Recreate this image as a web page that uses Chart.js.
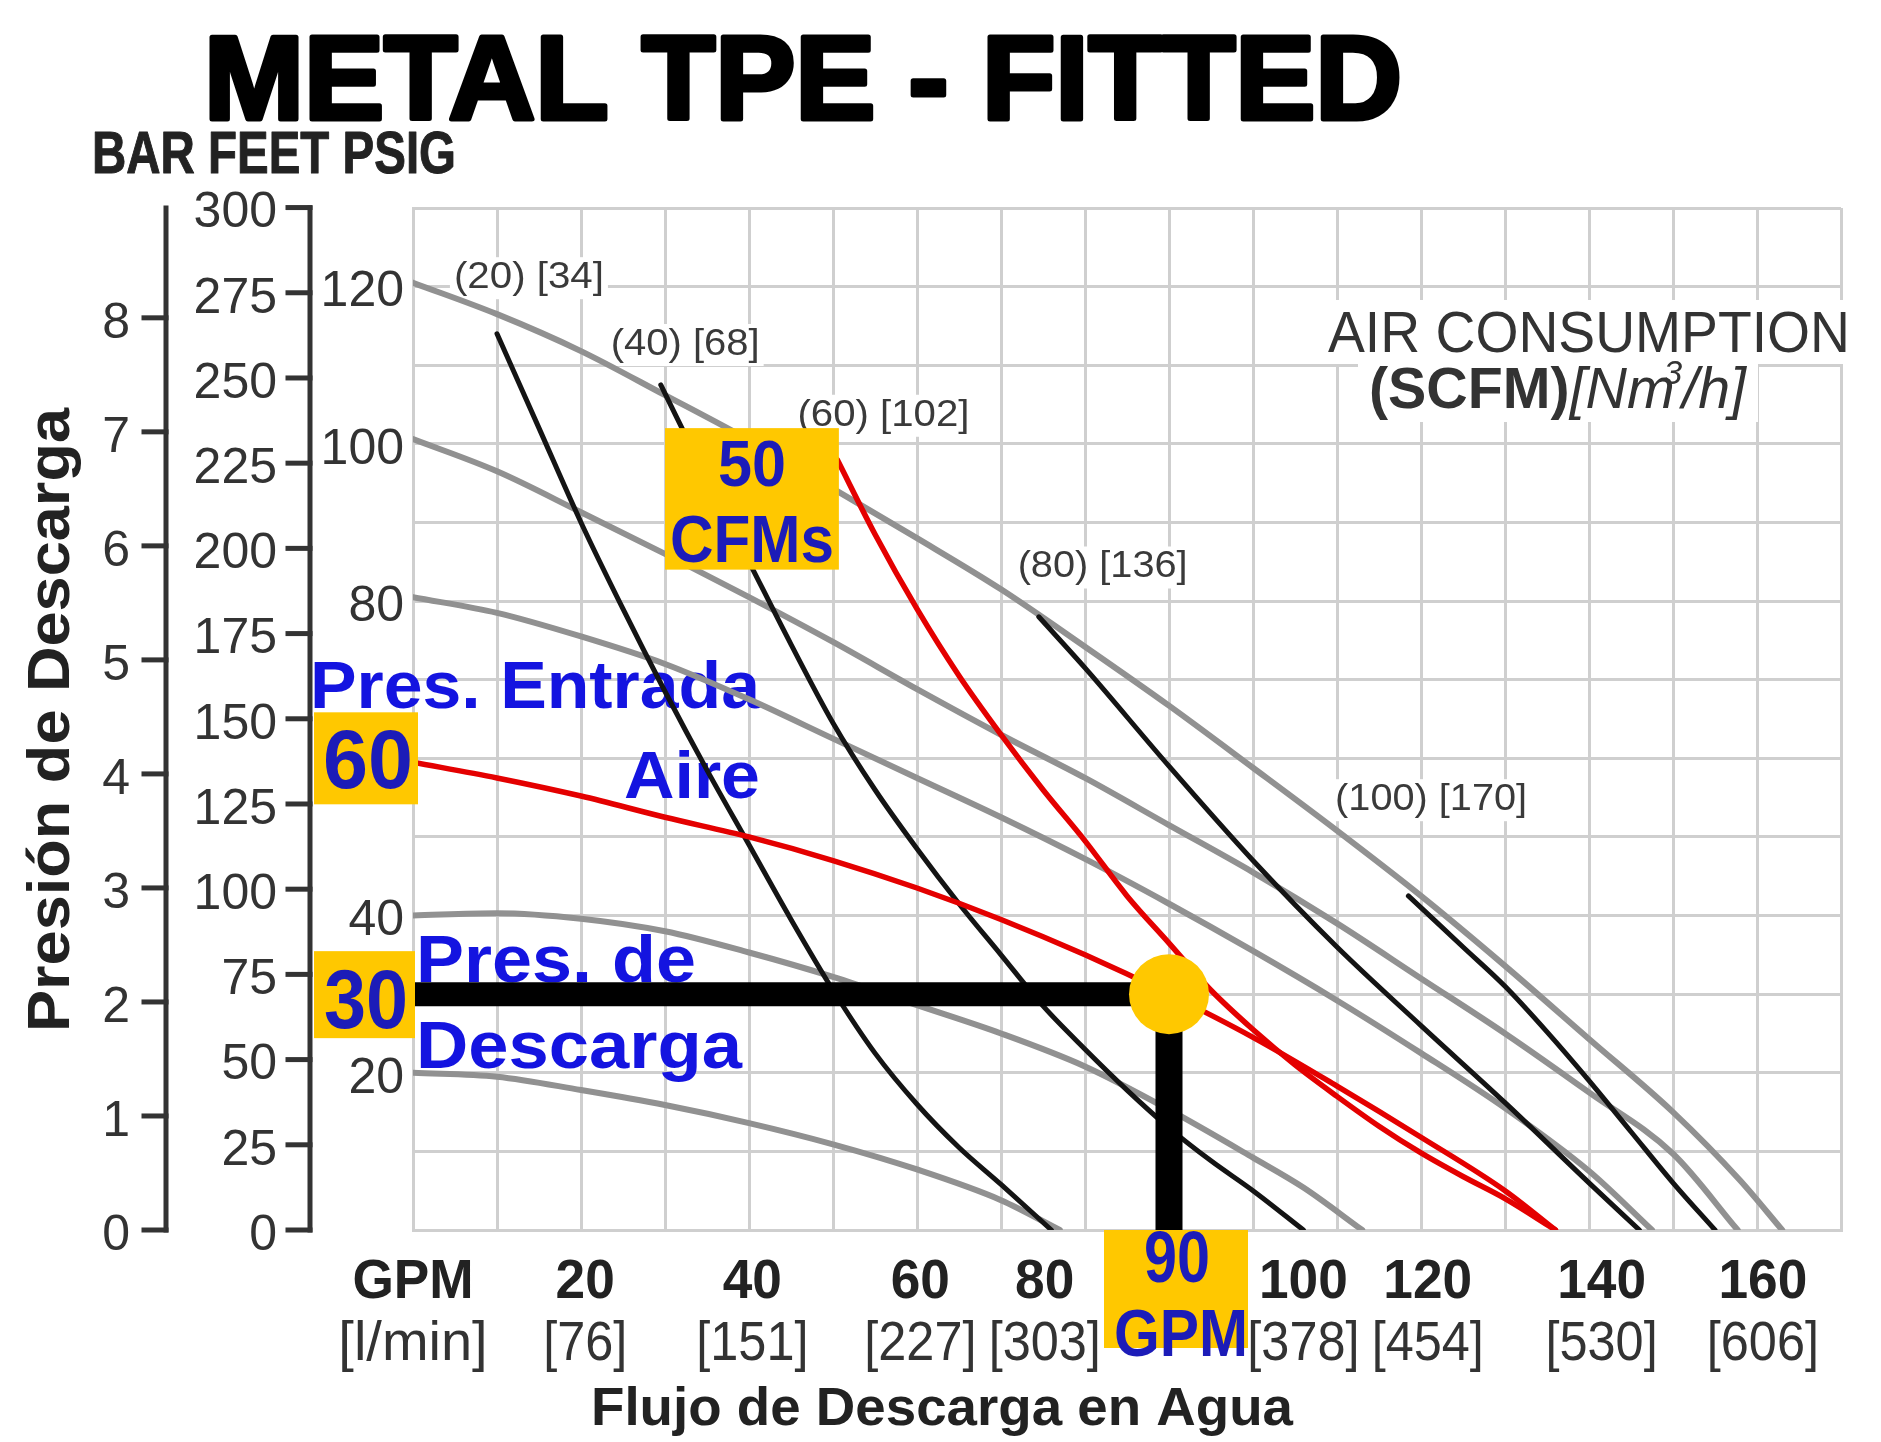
<!DOCTYPE html>
<html>
<head>
<meta charset="utf-8">
<script src="https://cdn.jsdelivr.net/npm/chart.js@4.4.1/dist/chart.umd.min.js"></script>
<style>
html,body{margin:0;padding:0;background:#fff;}
canvas{display:block;}
</style>
</head>
<body>
<canvas id="c" width="1881" height="1442"></canvas>
<script>
// ================= DATA =================
// X axis (water discharge flow)
const gpmTickLabels = ['GPM', '20', '40', '60', '80', '100', '120', '140', '160'];
const lpmTickLabels = ['[l/min]', '[76]', '[151]', '[227]', '[303]', '[378]', '[454]', '[530]', '[606]'];
const gpmLabelPos   = [0, 20.5, 40.4, 60.4, 75.2, 106, 120.8, 141.5, 160.7];
// Y axes (discharge pressure)
const psiTickLabels = [20, 40, 80, 100, 120];
const feetTicks = [0, 25, 50, 75, 100, 125, 150, 175, 200, 225, 250, 275, 300];
const barTicks  = [0, 1, 2, 3, 4, 5, 6, 7, 8];

// Air inlet pressure curves (psi) : flow GPM -> discharge psi
const p120Gpm = [0, 10, 20, 30, 40, 50, 60, 70, 80, 90, 100, 110, 120, 130, 140, 150, 158, 163];
const p120Psi = [120.5, 116.5, 111.8, 106.2, 100.5, 94.3, 88, 81.5, 74.2, 66.7, 58.8, 50.8, 42.5, 33.6, 24.3, 15, 6.3, 0];
const p100Gpm = [0, 10, 20, 30, 40, 50, 60, 70, 80, 90, 100, 110, 120, 130, 140, 150, 157.7];
const p100Psi = [100.6, 96.5, 91.3, 86, 80.5, 74.8, 68.8, 63, 57.5, 51.5, 45.5, 39, 32, 25, 17.5, 9.7, 0];
const p80Gpm  = [0, 10, 20, 30, 40, 50, 60, 70, 80, 90, 100, 110, 120, 130, 140, 147.5];
const p80Psi  = [80.5, 78.5, 75.5, 72, 67.5, 62.5, 57.5, 52.5, 47.2, 41.5, 35.5, 29.2, 22.5, 15.5, 7.5, 0];
const p60Gpm  = [0, 10, 20, 30, 40, 50, 60, 70, 80, 90, 100, 110, 120, 130, 136];
const p60Psi  = [59.5, 57.5, 55.2, 52.5, 50, 47, 43.5, 39.5, 35, 30, 24.5, 18.3, 11.8, 5, 0];
const p40Gpm  = [0, 10, 20, 30, 40, 50, 60, 70, 80, 90, 100, 106, 113];
const p40Psi  = [40, 40.3, 39.6, 38, 35.3, 32.2, 28.6, 25, 20.8, 15.3, 9.2, 5.4, 0];
const p20Gpm  = [0, 10, 20, 30, 40, 50, 60, 70, 77];
const p20Psi  = [20, 19.5, 17.8, 15.9, 13.6, 10.9, 7.7, 3.8, 0];

// Air consumption curves (SCFM) [Nm3/h]
const scfmValues = [20, 40, 60, 80, 100];
const nm3hValues = [34, 68, 102, 136, 170];
const c20Gpm  = [10, 15, 20, 25, 30, 35, 40, 45, 50, 55, 60, 65, 70, 76];
const c20Psi  = [114, 102, 90, 79, 68.5, 58.5, 49, 39.5, 30.5, 22.5, 16, 10.5, 5.8, 0];
const c40Gpm  = [29.5, 35, 40, 45, 50, 55, 60, 65, 70, 75, 80, 85, 90, 95, 100, 106];
const c40Psi  = [107.5, 95.5, 85, 74.5, 64.5, 56, 48.5, 41.5, 35, 28.5, 23, 17.8, 13, 8.8, 5, 0];
const c60Gpm  = [50.5, 55, 60, 65, 70, 75, 80, 85, 90, 95, 100, 105, 110, 115, 120, 125, 130, 136];
const c60Psi  = [98, 88.5, 79, 70.5, 63, 56, 49.5, 42.5, 36.5, 30.5, 25.5, 21, 17, 13.2, 9.8, 6.8, 4, 0];
const c80Gpm  = [74.5, 80, 90, 100, 110, 120, 130, 140, 146];
const c80Psi  = [78, 71.5, 59, 47, 36, 26, 16.2, 6, 0];
const c100Gpm = [118.5, 125, 130, 135, 140, 145, 150, 155];
const c100Psi = [42.5, 36, 31, 25.2, 19, 12.5, 6, 0];

// Curve label anchors (GPM centre, psi baseline)
const labelGpm = [13.8, 32.4, 56, 82.1, 121.2];
const labelPsi = [119.8, 111.3, 102.3, 83, 53.4];

// Highlighted operating point
const flowGpm = 90;
const dischargePsi = 30;
const inletPsi = 60;
const airCfm = 50;

// ================= HELPERS =================
const FONT = "'Liberation Sans', Arial, Helvetica, sans-serif";
const BLUE = '#1414e0';
const BOXBLUE = '#1c1cb8';
const YEL = '#FFC800';

function series(xs, ys) { return xs.map((x, i) => ({x: x, y: ys[i]})); }

function drawText(ctx, str, x, y, o) {
  ctx.save();
  ctx.font = o.font;
  ctx.fillStyle = o.color || '#000';
  ctx.textBaseline = o.baseline || 'alphabetic';
  ctx.textAlign = 'left';
  const w = ctx.measureText(str).width;
  let sx = o.sx || 1;
  if (o.width) sx = o.width / w;
  let x0 = x;
  const align = o.align || 'left';
  if (align === 'center') x0 = x - w * sx / 2;
  else if (align === 'right') x0 = x - w * sx;
  ctx.translate(x0, y);
  ctx.scale(sx, 1);
  if (o.stroke) {
    ctx.lineWidth = o.stroke; ctx.strokeStyle = o.color || '#000'; ctx.lineJoin = 'round';
    ctx.strokeText(str, 0, 0);
  }
  ctx.fillText(str, 0, 0);
  ctx.restore();
  return {x0: x0, w: w * sx};
}

function lineDs(xs, ys, color, width) {
  return {
    data: series(xs, ys), showLine: true, borderColor: color, borderWidth: width,
    pointRadius: 0, pointHoverRadius: 0, fill: false,
    cubicInterpolationMode: 'monotone', borderCapStyle: 'round', borderJoinStyle: 'round'
  };
}

const GRAY = 'rgb(145,145,145)';
const BLK = '#141414';
const RED = '#e40000';

const datasets = [
  {data: [{x: flowGpm, y: dischargePsi}], showLine: false, pointRadius: 40, pointHoverRadius: 40,
   pointBackgroundColor: YEL, pointBorderWidth: 0, pointStyle: 'circle'},
  {data: series([0, flowGpm], [dischargePsi, dischargePsi]), showLine: true, borderColor: '#000',
   borderWidth: 24, pointRadius: 0, borderCapStyle: 'butt', tension: 0},
  {data: series([flowGpm, flowGpm], [dischargePsi, 0]), showLine: true, borderColor: '#000',
   borderWidth: 27, pointRadius: 0, borderCapStyle: 'butt', tension: 0},
  lineDs(p60Gpm, p60Psi, RED, 5.5),
  lineDs(c60Gpm, c60Psi, RED, 5.5),
  lineDs(c20Gpm, c20Psi, BLK, 5),
  lineDs(c40Gpm, c40Psi, BLK, 5),
  lineDs(c80Gpm, c80Psi, BLK, 5),
  lineDs(c100Gpm, c100Psi, BLK, 5),
  lineDs(p120Gpm, p120Psi, GRAY, 6),
  lineDs(p100Gpm, p100Psi, GRAY, 6),
  lineDs(p80Gpm, p80Psi, GRAY, 6),
  lineDs(p40Gpm, p40Psi, GRAY, 6),
  lineDs(p20Gpm, p20Psi, GRAY, 6)
];

// ================= PLUGIN =================
const decorations = {
  id: 'decorations',
  beforeDraw(chart) {
    const ctx = chart.ctx;
    ctx.save(); ctx.fillStyle = '#fff'; ctx.fillRect(0, 0, chart.width, chart.height); ctx.restore();
  },
  beforeDatasetsDraw(chart) {
    const ctx = chart.ctx, x = chart.scales.x, y = chart.scales.y;
    // curve labels
    const widths = [150, 149, 172, 170, 192];
    scfmValues.forEach((s, i) => {
      const t = '(' + s + ') [' + nm3hValues[i] + ']';
      const cx = x.getPixelForValue(labelGpm[i]);
      const by = y.getPixelForValue(labelPsi[i]);
      ctx.fillStyle = '#fff';
      ctx.fillRect(cx - widths[i] / 2 - 4, by - 31, widths[i] + 8, 42);
      drawText(ctx, t, cx, by, {font: '36px ' + FONT, color: '#3a3a3a', width: widths[i], align: 'center'});
    });
    // AIR CONSUMPTION block
    ctx.fillStyle = '#fff';
    ctx.fillRect(1318, 300, 544, 64);
    ctx.fillRect(1358, 364, 400, 58);
    drawText(ctx, 'AIR CONSUMPTION', 1328, 352, {font: '58px ' + FONT, color: '#333', width: 522});
    // (SCFM)[Nm3/h]
    ctx.save();
    const f1 = 'bold 58px ' + FONT, f2 = 'italic 58px ' + FONT, f3 = 'italic 34px ' + FONT;
    ctx.font = f1; const w1 = ctx.measureText('(SCFM)').width;
    ctx.font = f2; const w2 = ctx.measureText('[Nm').width;
    ctx.font = f3; const w3 = ctx.measureText('3').width;
    ctx.font = f2; const w4 = ctx.measureText('/h]').width;
    const tot = w1 + w2 + w3 * 0.4 + w4;
    const sx = 377 / tot;
    ctx.translate(1369, 408); ctx.scale(sx, 1);
    ctx.fillStyle = '#333'; ctx.textBaseline = 'alphabetic';
    ctx.font = f1; ctx.fillText('(SCFM)', 0, 0);
    ctx.font = f2; ctx.fillText('[Nm', w1, 0);
    ctx.font = f3; ctx.fillText('3', w1 + w2 - w3 * 0.6, -24);
    ctx.font = f2; ctx.fillText('/h]', w1 + w2 + w3 * 0.4, 0);
    ctx.restore();
    // blue labels
    drawText(ctx, 'Pres. Entrada', 310, 708, {font: 'bold 67px ' + FONT, color: BLUE, width: 450});
    drawText(ctx, 'Aire', 760, 798, {font: 'bold 67px ' + FONT, color: BLUE, width: 136, align: 'right'});
    drawText(ctx, 'Pres. de', 416, 982, {font: 'bold 66px ' + FONT, color: BLUE, width: 280});
    drawText(ctx, 'Descarga', 416, 1068, {font: 'bold 66px ' + FONT, color: BLUE, width: 326});
  },
  afterDatasetsDraw(chart) {
    const ctx = chart.ctx, x = chart.scales.x, y = chart.scales.y;
    ctx.save();
    ctx.fillStyle = YEL;
    // air consumption box
    const bx0 = x.getPixelForValue(30), bx1 = x.getPixelForValue(50.7);
    const by0 = y.getPixelForValue(102), by1 = y.getPixelForValue(84);
    ctx.fillRect(bx0, by0, bx1 - bx0, by1 - by0);
    // inlet pressure box
    const yi = y.getPixelForValue(inletPsi);
    ctx.fillRect(314, yi - 46, 104, 92);
    // discharge pressure box
    const yd = y.getPixelForValue(dischargePsi);
    ctx.fillRect(314, yd - 43, 101, 87);
    // flow box
    const xf = x.getPixelForValue(flowGpm);
    ctx.fillRect(xf - 65, y.getPixelForValue(0), 144, 118);
    ctx.restore();
    const bcx = (bx0 + bx1) / 2;
    drawText(ctx, String(airCfm), bcx, 486, {font: 'bold 64px ' + FONT, color: BOXBLUE, width: 68, align: 'center'});
    drawText(ctx, 'CFMs', bcx, 562, {font: 'bold 67px ' + FONT, color: BOXBLUE, width: 164, align: 'center'});
    drawText(ctx, String(inletPsi), 368, yi + 30, {font: 'bold 84px ' + FONT, color: BOXBLUE, width: 90, align: 'center'});
    drawText(ctx, String(dischargePsi), 366, yd + 34, {font: 'bold 84px ' + FONT, color: BOXBLUE, width: 84, align: 'center'});
    drawText(ctx, String(flowGpm), xf + 8, 1282, {font: 'bold 72px ' + FONT, color: BOXBLUE, width: 66, align: 'center'});
    drawText(ctx, 'GPM', xf + 12, 1356, {font: 'bold 67px ' + FONT, color: BOXBLUE, width: 134, align: 'center'});
  },
  afterDraw(chart) {
    const ctx = chart.ctx, x = chart.scales.x, y = chart.scales.y;
    const feet = chart.scales.yFeet, bar = chart.scales.yBar;
    // title
    drawText(ctx, 'METAL TPE - FITTED', 204, 119, {font: 'bold 118px ' + FONT, color: '#000', width: 1198, stroke: 5});
    drawText(ctx, 'BAR FEET PSIG', 92, 173, {font: 'bold 60px ' + FONT, color: '#222', width: 364, stroke: 1});
    // y title
    ctx.save();
    ctx.translate(69, 720); ctx.rotate(-Math.PI / 2);
    drawText(ctx, 'Presión de Descarga', 0, 0, {font: 'bold 60px ' + FONT, color: '#222', width: 624, align: 'center'});
    ctx.restore();
    // axes lines
    ctx.save();
    ctx.strokeStyle = '#333'; ctx.lineWidth = 5; ctx.lineCap = 'square';
    const top = feet.getPixelForValue(feet.max), bottom = feet.getPixelForValue(0);
    ctx.beginPath(); ctx.moveTo(166, top); ctx.lineTo(166, bottom); ctx.stroke();
    ctx.beginPath(); ctx.moveTo(310, top); ctx.lineTo(310, bottom); ctx.stroke();
    barTicks.forEach(v => {
      const py = bar.getPixelForValue(v);
      ctx.beginPath(); ctx.moveTo(144, py); ctx.lineTo(166, py); ctx.stroke();
    });
    feetTicks.forEach(v => {
      const py = feet.getPixelForValue(v);
      ctx.beginPath(); ctx.moveTo(288, py); ctx.lineTo(310, py); ctx.stroke();
    });
    ctx.restore();
    barTicks.forEach(v => {
      drawText(ctx, String(v), 130, bar.getPixelForValue(v) + 6, {font: '50px ' + FONT, color: '#333', align: 'right', baseline: 'middle'});
    });
    feetTicks.forEach(v => {
      drawText(ctx, String(v), 277, feet.getPixelForValue(v) + 6, {font: '50px ' + FONT, color: '#333', align: 'right', baseline: 'middle'});
    });
    psiTickLabels.forEach(v => {
      drawText(ctx, String(v), 404, y.getPixelForValue(v) + 6, {font: '50px ' + FONT, color: '#333', align: 'right', baseline: 'middle'});
    });
    // x tick labels
    gpmTickLabels.forEach((t, i) => {
      const cx = x.getPixelForValue(gpmLabelPos[i]);
      drawText(ctx, t, cx, 1298, {font: 'bold 56px ' + FONT, color: '#222', sx: 0.95, align: 'center'});
      drawText(ctx, lpmTickLabels[i], cx, 1360, {font: '56px ' + FONT, color: '#333', sx: i === 0 ? 1.0 : 0.9, align: 'center'});
    });
    drawText(ctx, 'Flujo de Descarga en Agua', 942, 1425, {font: 'bold 54px ' + FONT, color: '#222', width: 702, align: 'center'});
  }
};

// ================= CHART =================
const gridOpts = {color: '#cfcfcf', lineWidth: 3, drawTicks: false};
new Chart(document.getElementById('c'), {
  type: 'scatter',
  data: {datasets: datasets},
  options: {
    responsive: false,
    animation: false,
    devicePixelRatio: 1,
    layout: {padding: {left: 413, top: 208, right: 14, bottom: 212}},
    plugins: {legend: {display: false}, tooltip: {enabled: false}, title: {display: false}},
    events: [],
    scales: {
      x: {type: 'linear', min: 0, max: 170, ticks: {display: false, stepSize: 10},
          grid: gridOpts, border: {display: true, color: '#cfcfcf', width: 3},
          afterFit(s) { s.height = 0; }},
      y: {type: 'linear', min: 0, max: 130, ticks: {display: false, stepSize: 10},
          grid: gridOpts, border: {display: true, color: '#cfcfcf', width: 3},
          afterFit(s) { s.width = 0; }},
      yFeet: {type: 'linear', display: false, position: 'left', min: 0, max: 130 * 2.3067},
      yBar: {type: 'linear', display: false, position: 'left', min: 0, max: 130 / 14.5038}
    }
  },
  plugins: [decorations]
});
</script>
</body>
</html>
